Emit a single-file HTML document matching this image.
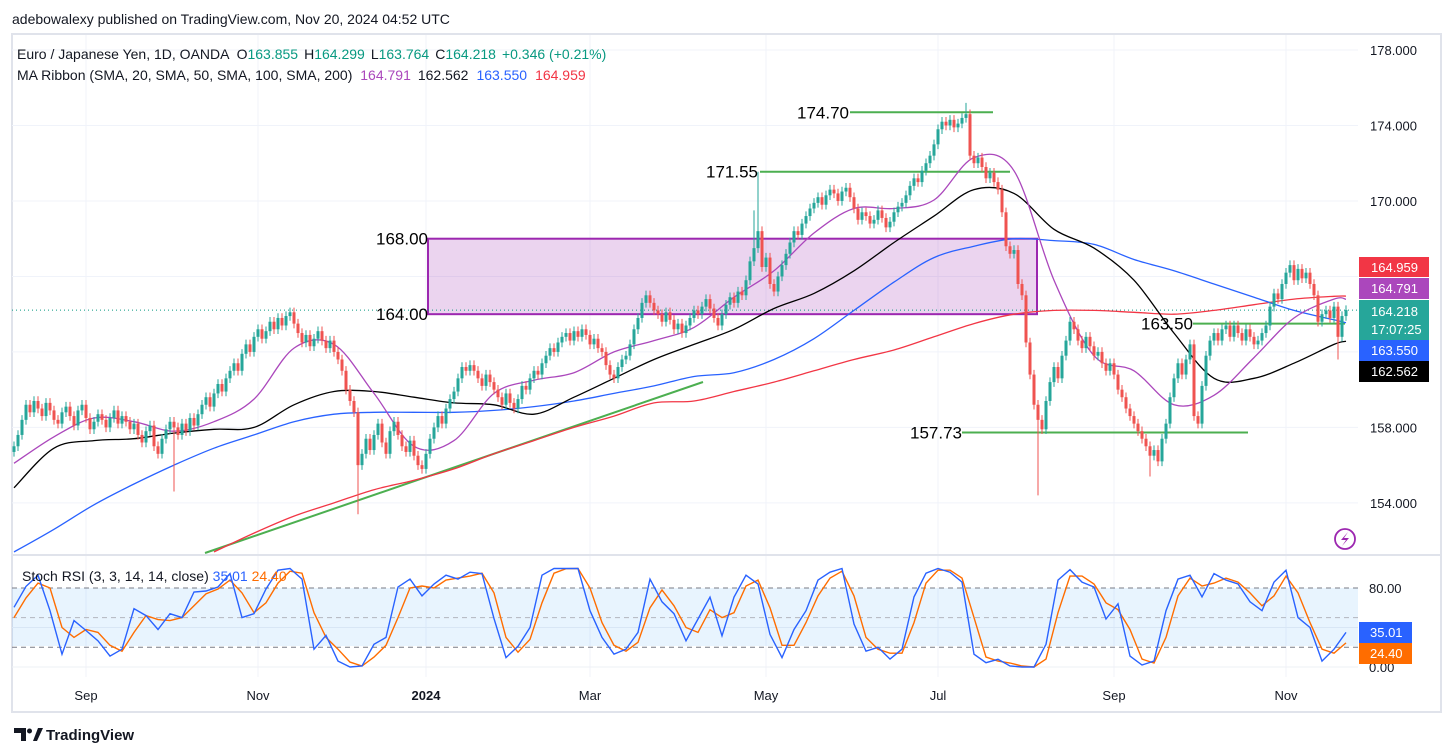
<!DOCTYPE html>
<html><head><meta charset="utf-8"><style>
html,body{margin:0;padding:0;background:#fff;}
svg{display:block;font-family:"Liberation Sans",sans-serif;}
</style></head><body>
<svg id="c" width="1453" height="756" viewBox="0 0 1453 756" xmlns="http://www.w3.org/2000/svg">
<text x="12" y="24" font-size="14" fill="#131722">adebowalexy published on TradingView.com, Nov 20, 2024 04:52 UTC</text>
<rect x="12" y="34" width="1429" height="678" fill="#fff" stroke="#e0e3eb" stroke-width="2"/>
<g id="grid"></g>
<rect x="12" y="588" width="1346" height="58" fill="#2196f3" fill-opacity="0.1"/>
<g id="main" clip-path="url(#clipMain)"></g>
<g id="stoch"></g>
<g id="axes"></g>
<defs><clipPath id="clipMain"><rect x="12" y="35" width="1346" height="520"/></clipPath></defs>
<line x1="12" y1="555" x2="1441" y2="555" stroke="#e0e3eb" stroke-width="2"/>
<text x="17" y="59" font-size="14" fill="#131722">Euro / Japanese Yen, 1D, OANDA <tspan dx="4">O</tspan><tspan fill="#089981">163.855</tspan><tspan dx="6">H</tspan><tspan fill="#089981">164.299</tspan><tspan dx="6">L</tspan><tspan fill="#089981">163.764</tspan><tspan dx="6">C</tspan><tspan fill="#089981">164.218</tspan><tspan dx="6" fill="#089981">+0.346 (+0.21%)</tspan></text>
<text x="17" y="80" font-size="14" fill="#131722">MA Ribbon (SMA, 20, SMA, 50, SMA, 100, SMA, 200) <tspan dx="4" fill="#ab47bc">164.791</tspan><tspan dx="8">162.562</tspan><tspan dx="8" fill="#2962ff">163.550</tspan><tspan dx="8" fill="#f23645">164.959</tspan></text>
<text x="22" y="581" font-size="14" fill="#131722">Stoch RSI (3, 3, 14, 14, close) <tspan fill="#2962ff">35.01</tspan> <tspan fill="#ff6d00">24.40</tspan></text>
<g><circle cx="1345" cy="539" r="10" fill="#fff" stroke="#9c27b0" stroke-width="1.8"/><path d="M1348 532 L1341 540 L1346 540 L1342 546 L1349 538 L1344 538 Z" fill="#9c27b0"/></g>
<g><path d="M14 728 H26 V741 H21 V733 H14 Z" fill="#131722"/><circle cx="29.5" cy="731" r="2.5" fill="#131722"/><path d="M33 741 L38 728 H43 L37 741 Z" fill="#131722"/><text x="46" y="740" font-size="15" fill="#131722" font-weight="bold">TradingView</text></g>
</svg>
<script>
// ---- data ----
const closes=[157.0,157.6,158.4,
159.2,158.8,159.4,159.0,158.6,159.3,158.9,
158.4,158.2,158.8,159.1,158.6,158.1,158.9,159.2,158.5,157.9,158.3,158.7,158.4,158.0,158.5,158.9,158.2,158.6,158.3,157.9,
158.2,157.6,157.2,157.8,158.1,157.0,156.6,157.4,157.9,158.3,158.0,157.6,158.2,157.8,158.5,158.1,158.7,
159.2,159.6,159.1,159.8,160.3,159.9,160.6,161.0,
161.4,161.0,161.9,162.4,162.0,162.8,163.2,162.7,163.1,163.6,163.2,163.8,163.4,163.9,164.1,163.5,
163.0,162.5,162.9,162.3,162.7,163.1,162.6,162.2,162.6,162.0,161.6,161.0,
160.0,159.4,158.8,156.0,
156.6,157.4,156.8,157.6,158.2,157.2,156.6,157.8,158.3,157.6,157.0,156.7,157.3,156.5,156.0,155.8,
156.6,157.4,158.0,158.6,158.2,159.0,159.5,159.9,160.6,161.2,161.0,161.3,161.0,
160.6,160.2,160.8,160.4,160.0,159.6,159.2,159.8,159.3,159.0,159.5,
160.2,160.0,160.6,161.0,160.8,161.4,161.8,162.2,162.0,162.5,162.8,
163.0,162.6,163.1,162.8,163.2,162.9,162.4,162.7,162.2,162.0,
161.3,160.8,160.6,161.2,161.6,161.8,
162.4,163.2,163.8,164.6,165.0,
164.6,164.2,164.0,163.6,164.1,163.7,163.2,163.5,163.0,163.4,163.8,164.2,164.0,
164.4,164.8,164.3,163.8,163.4,164.0,164.5,164.9,164.6,165.2,165.0,
165.8,166.8,167.5,168.4,166.5,
167.0,165.6,165.2,166.0,166.6,
167.2,167.8,168.4,168.2,168.8,169.2,169.6,169.9,
170.2,169.8,170.3,170.6,170.4,170.0,170.5,170.7,170.2,169.6,169.0,169.4,169.2,168.8,169.0,169.5,169.1,168.6,168.9,169.4,169.7,169.9,
170.3,170.8,171.2,171.0,171.6,172.0,172.4,
173.0,173.8,174.2,174.0,174.3,173.9,174.1,174.4,174.6,
172.4,172.0,172.3,171.8,171.2,171.5,171.0,170.6,
169.4,167.6,167.2,167.4,165.6,165.0,
162.5,160.8,159.2,158.4,157.9,159.4,160.4,
161.2,160.6,161.8,162.6,163.6,163.2,162.6,
162.2,162.8,162.3,161.8,162.0,161.4,161.0,161.4,160.8,
160.0,159.6,159.0,158.6,158.2,157.8,
157.4,157.0,156.5,156.8,156.2,157.4,158.2,
159.6,160.6,161.4,160.8,161.6,162.4,158.6,158.2,160.2,
161.8,162.6,163.0,162.6,163.2,163.4,162.8,163.4,163.0,162.6,163.2,162.8,162.4,162.6,163.0,163.4,164.4,165.1,164.8,
165.6,166.2,166.6,165.8,166.4,165.9,166.2,165.6,165.0,
163.6,164.0,164.2,163.8,164.4,162.8,163.9,164.218];
const spikeHiIdx=[186,238,185];
const spikeHiVal=[171.55,175.2,169.5];
const spikeLoIdx=[86,256,40,331,284];
const spikeLoVal=[153.4,154.4,154.6,161.6,155.4];
// moving averages sampled every 10 bars, last value = final bar
const sma20=[156.1,157.5,158.5,158.3,157.8,158.3,159.5,162.2,162.4,159.8,157.0,157.3,159.8,160.5,160.9,162.0,162.6,163.3,164.9,166.3,168.3,169.6,169.6,170.05,172.3,171.6,165.8,161.8,161.0,159.2,159.7,161.7,163.8,164.8,164.791];
const sma50=[154.8,156.9,157.3,157.4,157.7,157.9,158.0,159.2,159.9,159.9,159.6,159.3,159.2,158.7,159.6,160.6,161.6,162.4,163.2,164.3,165.1,166.3,167.8,169.2,170.6,170.4,168.5,167.5,165.8,163.0,160.6,160.6,161.4,162.4,162.562];
const sma100=[151.4,152.6,153.9,155.0,156.0,156.9,157.6,158.3,158.7,158.8,158.8,158.8,158.9,159.1,159.4,159.8,160.2,160.7,160.9,161.6,162.7,164.2,165.7,167.0,167.6,168.0,167.9,167.7,166.9,166.3,165.6,164.9,164.2,163.7,163.55];
const sma200=[null,null,null,null,null,151.4,152.4,153.3,154.0,154.7,155.2,155.8,156.6,157.3,158.0,158.6,159.3,159.4,159.9,160.4,161.0,161.6,162.1,162.8,163.5,164.0,164.2,164.2,164.1,164.0,164.2,164.5,164.8,164.95,164.959];
// stoch rsi sampled every 3 bars
const stochK=[60.5,81.6,92.9,57,13,47,37,26.5,11,18,59,52,38,54,50,76,77,81,94.6,50,54,79,98,99.7,89,18,32,6,0,1,23,30,81,89,72,84,93,89,96,94.6,49,9.5,21,40,93,99.7,99.7,99.7,57,30,13,18,35,89,66,54,26.5,
48.6,70.7,31.6,70.7,93,84,33,9.5,38,57,88,96,99.7,43.5,16,20,8,18,71,95,99.7,96,86,13,4.4,7.8,1,0,0,23,88,98.6,86,81,48.6,64,11,2,6,57,89,93,71,94.6,88,84,66,57,86,98,50,40,6,18,35.01];
const stochD=[50,70,85,80,40,30,38,35,22,16,35,52,48,47,50,62,74,79,88,75,55,65,85,97,95,55,30,18,5,1,10,22,50,80,82,80,88,90,92,95,75,30,15,28,65,95,99.5,99.7,80,45,22,16,25,60,78,62,40,
35,58,50,55,82,88,60,22,22,45,72,90,97,72,30,18,14,14,45,85,98,98,90,50,10,6,4,1,0,8,55,92,92,84,65,58,38,8,4,30,72,90,82,85,90,86,75,62,72,92,75,45,18,14,24.4];
const priceTicks=[178,174,170,158,154];
const gridPrices=[178,174,170,166,162,158,154];
const monthLabels=["Sep","Nov","2024","Mar","May","Jul","Sep","Nov"];
const monthBars=[18,61,103,144,188,231,275,318];
const stochTicks=[80,0];

// ---- scales ----
const NS="http://www.w3.org/2000/svg";
const X0=14, X1=1346;
const n=closes.length;
const xb=i=>X0+i*(X1-X0)/(n-1);
const yp=p=>50+(178-p)*18.87;
const ys=v=>667-v*0.9875;
function mk(tag,attrs,parent){const e=document.createElementNS(NS,tag);for(const k in attrs)e.setAttribute(k,attrs[k]);parent.appendChild(e);return e;}
function smooth(pts){if(pts.length<2)return '';let d='M'+pts[0][0].toFixed(1)+' '+pts[0][1].toFixed(1);
for(let i=0;i<pts.length-1;i++){const p0=pts[i?i-1:0],p1=pts[i],p2=pts[i+1],p3=pts[i+2<pts.length?i+2:i+1];
const c1x=p1[0]+(p2[0]-p0[0])/6,c1y=p1[1]+(p2[1]-p0[1])/6,c2x=p2[0]-(p3[0]-p1[0])/6,c2y=p2[1]-(p3[1]-p1[1])/6;
d+='C'+c1x.toFixed(1)+' '+c1y.toFixed(1)+' '+c2x.toFixed(1)+' '+c2y.toFixed(1)+' '+p2[0].toFixed(1)+' '+p2[1].toFixed(1);}return d;}
const gGrid=document.getElementById('grid'),gMain=document.getElementById('main'),gSt=document.getElementById('stoch'),gAx=document.getElementById('axes');

// grid
gridPrices.forEach(p=>{const l=mk('line',{x1:12,x2:1358,y1:yp(p),y2:yp(p),stroke:'#f0f3fa','stroke-width':1},gGrid);

});
monthBars.forEach((b,i)=>{const x=xb(b);const l=mk('line',{x1:x,x2:x,y1:35,y2:677,stroke:'#f0f3fa','stroke-width':1},gGrid);


const t=mk('text',{x:x,y:700,'font-size':13,fill:'#131722','text-anchor':'middle','font-weight':monthLabels[i]==='2024'?'bold':'normal'},gAx);t.textContent=monthLabels[i];

});
[40,0].forEach(v=>{const l=mk('line',{x1:12,x2:1358,y1:ys(v),y2:ys(v),stroke:'#eef0f5','stroke-width':1},gGrid);

});

// annotations (behind candles)
const box=mk('rect',{x:428,y:yp(168),width:609,height:yp(164)-yp(168),fill:'#9c27b0','fill-opacity':0.2,stroke:'#9c27b0','stroke-width':2},gMain);


const tl=mk('line',{x1:205,y1:553,x2:703,y2:382,stroke:'#4caf50','stroke-width':2},gMain);


const hlines=[[174.70,850,993],[171.55,760,1010],[163.50,1193,1345],[157.73,962,1248]];
hlines.forEach(h=>{const l=mk('line',{x1:h[1],x2:h[2],y1:yp(h[0]),y2:yp(h[0]),stroke:'#4caf50','stroke-width':2},gMain);

});
const dot=mk('line',{x1:12,x2:1358,y1:yp(164.218),y2:yp(164.218),stroke:'#089981','stroke-width':1,'stroke-dasharray':'1 3'},gMain);



// MAs
function maLine(arr,color,name){const pts=[];arr.forEach((v,k)=>{if(v===null)return;const i=k<arr.length-1?k*10:n-1;pts.push([xb(i),yp(v)]);});
const p=mk('path',{d:smooth(pts),fill:'none',stroke:color,'stroke-width':1.3},gMain);

}
maLine(sma200,'#f23645','sma-200-line');
maLine(sma100,'#2962ff','sma-100-line');
maLine(sma50,'#000000','sma-50-line');
maLine(sma20,'#ab47bc','sma-20-line');

// candles
for(let i=0;i<n;i++){const c=closes[i],o=i?closes[i-1]:c-0.3;let hi=Math.max(o,c)+0.25,lo=Math.min(o,c)-0.25;
const a=spikeHiIdx.indexOf(i);if(a>=0)hi=spikeHiVal[a];const b=spikeLoIdx.indexOf(i);if(b>=0)lo=spikeLoVal[b];
const col=c>=o?'#26a69a':'#ef5350';const x=xb(i);
const g=mk('g',{},gMain);


mk('line',{x1:x,x2:x,y1:yp(hi),y2:yp(lo),stroke:col,'stroke-width':1},g);
const top=yp(Math.max(o,c)),bot=yp(Math.min(o,c));
mk('rect',{x:x-1.5,y:top,width:3,height:Math.max(1,bot-top),fill:col},g);}

// annotation labels
const labs=[["174.70",849,yp(174.70)],["171.55",758,yp(171.55)],["168.00",428,yp(168)],["164.00",428,yp(164)],["163.50",1193,yp(163.5)],["157.73",962,yp(157.73)]];
labs.forEach(l=>{const t=mk('text',{x:l[1],y:l[2]+6,'font-size':17,fill:'#000','text-anchor':'end'},gMain);t.textContent=l[0];

});

// stoch
[[80,'#787b86'],[50,'#b2b5be'],[20,'#787b86']].forEach(s=>{const l=mk('line',{x1:12,x2:1358,y1:ys(s[0]),y2:ys(s[0]),stroke:s[1],'stroke-width':1,'stroke-dasharray':'5 4'},gSt);

});
function stLine(arr,color,name){const step=(X1-X0)/(arr.length-1);let d='';arr.forEach((v,j)=>{d+=(j?'L':'M')+(X0+j*step).toFixed(1)+' '+ys(v).toFixed(1);});
const p=mk('path',{d:d,fill:'none',stroke:color,'stroke-width':1.4},gSt);

}
stLine(stochD,'#ff6d00','stoch-d-line');
stLine(stochK,'#2962ff','stoch-k-line');

// price axis
priceTicks.forEach(p=>{const t=mk('text',{x:1370,y:yp(p)+5,'font-size':13,fill:'#131722'},gAx);t.textContent=p.toFixed(3);

});
stochTicks.forEach(v=>{const t=mk('text',{x:1369,y:ys(v)+5,'font-size':13,fill:'#131722'},gAx);t.textContent=v.toFixed(2);

});
const tags=[["164.959",257,20,'#f23645'],["164.791",278,21,'#ab47bc'],["163.550",340,21,'#2962ff'],["162.562",361,21,'#000000']];
tags.forEach(tg=>{const g=mk('g',{},gAx);


mk('rect',{x:1359,y:tg[1],width:70,height:tg[2],fill:tg[3]},g);
const t=mk('text',{x:1371,y:tg[1]+15,'font-size':13,fill:'#fff'},g);t.textContent=tg[0];});
const cur=mk('g',{},gAx);


mk('rect',{x:1359,y:300,width:70,height:40,fill:'#26a69a'},cur);
mk('text',{x:1371,y:316,'font-size':13,fill:'#fff'},cur).textContent='164.218';
mk('text',{x:1371,y:334,'font-size':13,fill:'#fff'},cur).textContent='17:07:25';
[["35.01",622,'#2962ff'],["24.40",643,'#ff6d00']].forEach(tg=>{const g=mk('g',{},gAx);


mk('rect',{x:1359,y:tg[1],width:53,height:21,fill:tg[2]},g);
mk('text',{x:1370,y:tg[1]+15,'font-size':13,fill:'#fff'},g).textContent=tg[0];});
</script>
</body></html>
